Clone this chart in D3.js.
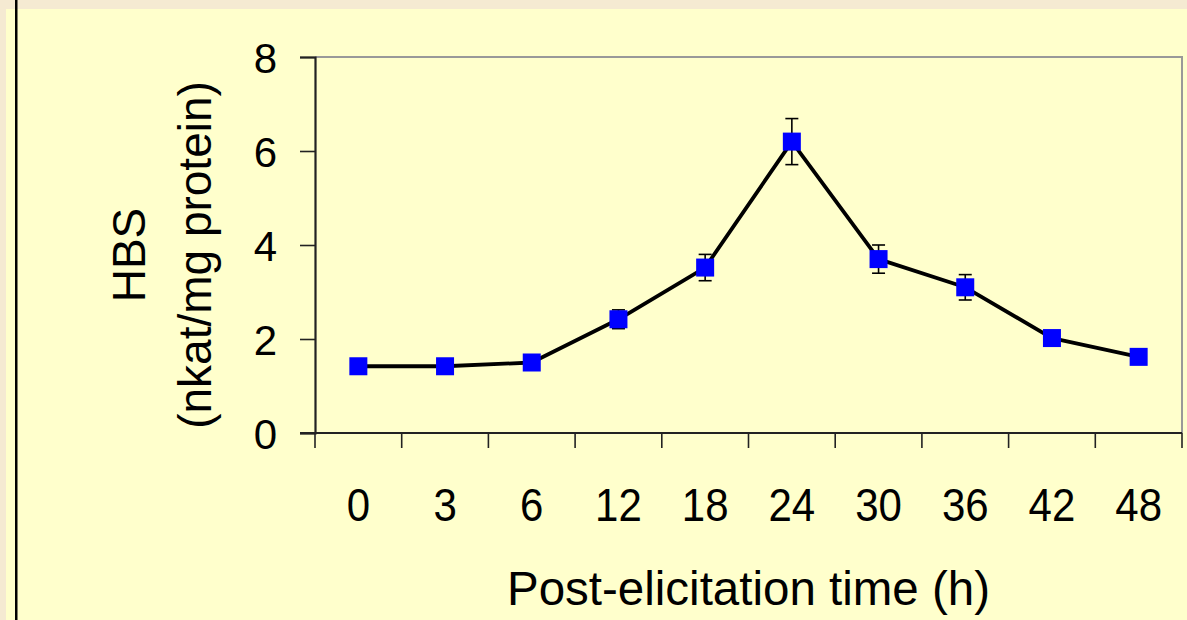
<!DOCTYPE html>
<html>
<head>
<meta charset="utf-8">
<script src="https://cdn.jsdelivr.net/npm/d3@7/dist/d3.min.js"></script>
<style>
  html, body { margin: 0; padding: 0; background: #FFFFCC; }
  svg { display: block; }
  text { font-family: "Liberation Sans", Arial, sans-serif; fill: #000; }
</style>
</head>
<body>
<svg id="chart" width="1187" height="620"></svg>
<script>
// ---- data ----
const categories = ["0", "3", "6", "12", "18", "24", "30", "36", "42", "48"];
const hbsValues  = [1.42, 1.42, 1.50, 2.42, 3.52, 6.20, 3.70, 3.10, 2.02, 1.62];
const hbsErrors  = [0, 0, 0, 0.20, 0.28, 0.49, 0.30, 0.27, 0, 0];
const yTicks     = [0, 2, 4, 6, 8];
const xTitle = "Post-elicitation time (h)";
const yTitle1 = "HBS";
const yTitle2 = "(nkat/mg protein)";

const W = 1187, H = 620;
const plot = { left: 315, right: 1182, top: 57, bottom: 433 };

const svg = d3.select("#chart");

// background and slide decoration
svg.append("rect").attr("width", W).attr("height", H).attr("fill", "#FFFFCC");
svg.append("rect").attr("x", 0).attr("y", 0).attr("width", W).attr("height", 9).attr("fill", "#F5EAD2");
svg.append("rect").attr("x", 0).attr("y", 0).attr("width", 6).attr("height", H).attr("fill", "#F5EAD2");
svg.append("rect").attr("x", 15).attr("y", 0).attr("width", 2.5).attr("height", H).attr("fill", "#000");

// scales
const x = d3.scaleBand().domain(categories).range([plot.left, plot.right]).padding(0);
const y = d3.scaleLinear().domain([0, 8]).range([plot.bottom, plot.top]);

// plot frame (top & right grey)
svg.append("path")
  .attr("d", `M${plot.left},${plot.top}H${plot.right}V${plot.bottom}`)
  .attr("fill", "none").attr("stroke", "#999").attr("stroke-width", 2);

// y axis
const yAxis = svg.append("g")
  .attr("transform", `translate(${plot.left},0)`)
  .call(d3.axisLeft(y).tickValues(yTicks).tickSize(15).tickPadding(23).tickFormat(d3.format("d")));
yAxis.select(".domain").attr("stroke", "#222").attr("stroke-width", 2.2);
yAxis.selectAll(".tick line").attr("stroke", "#222").attr("stroke-width", 1.6);
yAxis.selectAll(".tick text")
  .style("font-family", '"Liberation Sans", Arial, sans-serif')
  .style("font-size", "42px").attr("fill", "#000").attr("dy", "0.36em");

// x axis: labels at band centres, ticks at band boundaries
const xAxis = svg.append("g")
  .attr("transform", `translate(0,${plot.bottom})`)
  .call(d3.axisBottom(x).tickSize(0).tickPadding(0));
xAxis.select(".domain").remove();
xAxis.selectAll(".tick text")
  .style("font-family", '"Liberation Sans", Arial, sans-serif')
  .style("font-size", "42px").attr("fill", "#000")
  .attr("y", 0).attr("dy", "0")
  .attr("transform", "translate(0,88) scale(1,1.1)");
svg.append("line")
  .attr("x1", plot.left - 15).attr("x2", plot.right)
  .attr("y1", plot.bottom).attr("y2", plot.bottom)
  .attr("stroke", "#222").attr("stroke-width", 2.2);
const boundaries = categories.map(c => x(c)).concat([x(categories[categories.length - 1]) + x.bandwidth()]);
svg.append("g").selectAll("line").data(boundaries).join("line")
  .attr("x1", d => d).attr("x2", d => d)
  .attr("y1", plot.bottom).attr("y2", plot.bottom + 15)
  .attr("stroke", "#222").attr("stroke-width", 1.6);

// axis titles
svg.append("text")
  .attr("x", (plot.left + plot.right) / 2).attr("y", 605)
  .attr("text-anchor", "middle").style("font-size", "47.5px")
  .text(xTitle);
svg.append("text")
  .attr("transform", "translate(145,255) rotate(-90)")
  .attr("text-anchor", "middle").style("font-size", "46px")
  .text(yTitle1);
svg.append("text")
  .attr("transform", "translate(211,255) rotate(-90)")
  .attr("text-anchor", "middle").style("font-size", "46px")
  .text(yTitle2);

const data = categories.map((c, i) => ({ c, v: hbsValues[i], e: hbsErrors[i] }));
const cx = d => x(d.c) + x.bandwidth() / 2;

// line
svg.append("path")
  .datum(data)
  .attr("fill", "none").attr("stroke", "#000").attr("stroke-width", 3.8)
  .attr("stroke-linejoin", "round")
  .attr("d", d3.line().x(cx).y(d => y(d.v)));

// error bars
const eb = svg.append("g").attr("stroke", "#000").attr("stroke-width", 1.6);
const withErr = data.filter(d => d.e > 0);
eb.selectAll("line.v").data(withErr).join("line").attr("class", "v")
  .attr("x1", cx).attr("x2", cx)
  .attr("y1", d => y(d.v + d.e)).attr("y2", d => y(d.v - d.e));
eb.selectAll("line.t").data(withErr).join("line").attr("class", "t")
  .attr("x1", d => cx(d) - 6.5).attr("x2", d => cx(d) + 6.5)
  .attr("y1", d => y(d.v + d.e)).attr("y2", d => y(d.v + d.e));
eb.selectAll("line.b").data(withErr).join("line").attr("class", "b")
  .attr("x1", d => cx(d) - 6.5).attr("x2", d => cx(d) + 6.5)
  .attr("y1", d => y(d.v - d.e)).attr("y2", d => y(d.v - d.e));

// markers
const ms = 18;
svg.append("g").selectAll("rect").data(data).join("rect")
  .attr("x", d => cx(d) - ms / 2).attr("y", d => y(d.v) - ms / 2)
  .attr("width", ms).attr("height", ms)
  .attr("fill", "#0000FF");
</script>
</body>
</html>
